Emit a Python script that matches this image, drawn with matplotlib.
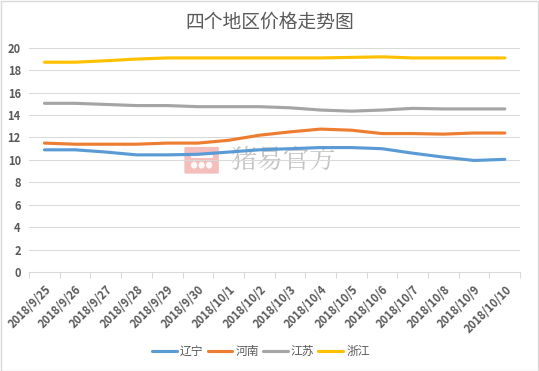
import matplotlib
matplotlib.use("Agg")
import matplotlib.pyplot as plt
import numpy as np
from matplotlib.patches import FancyBboxPatch, Rectangle, Ellipse

plt.rcParams['font.family'] = ['Noto Sans CJK SC', 'DejaVu Sans']

dates = ["2018/9/25", "2018/9/26", "2018/9/27", "2018/9/28", "2018/9/29", "2018/9/30",
         "2018/10/1", "2018/10/2", "2018/10/3", "2018/10/4", "2018/10/5", "2018/10/6",
         "2018/10/7", "2018/10/8", "2018/10/9", "2018/10/10"]
liaoning = [10.9, 10.9, 10.7, 10.45, 10.45, 10.5, 10.7, 10.9, 11.0, 11.1, 11.1, 11.0, 10.6, 10.25, 9.95, 10.05]
henan = [11.5, 11.4, 11.4, 11.4, 11.5, 11.5, 11.75, 12.2, 12.5, 12.75, 12.65, 12.35, 12.35, 12.3, 12.4, 12.4]
jiangsu = [15.05, 15.05, 14.95, 14.85, 14.85, 14.75, 14.75, 14.75, 14.65, 14.45, 14.35, 14.45, 14.6, 14.55, 14.55, 14.55]
zhejiang = [18.72, 18.72, 18.85, 19.0, 19.1, 19.1, 19.1, 19.1, 19.1, 19.1, 19.15, 19.2, 19.1, 19.1, 19.1, 19.1]
series_names = ["辽宁", "河南", "江苏", "浙江"]
colors = ["#5B9BD5", "#ED7D31", "#A5A5A5", "#FFC000"]
yticks = [0, 2, 4, 6, 8, 10, 12, 14, 16, 18, 20]

fig = plt.figure(figsize=(5.39, 3.71), dpi=100)
fig.patches.append(Rectangle((0.001, 0.001), 0.997, 0.996, transform=fig.transFigure,
                             fill=False, edgecolor="#D9D9D9", lw=1))
ax = fig.add_axes([0.054, 0.267, 0.911, 0.604])
ax.set_facecolor("none")
ax.set_zorder(2)

x = np.arange(len(dates))
for vals, name, c in zip([liaoning, henan, jiangsu, zhejiang], series_names, colors):
    ax.plot(x, vals, color=c, lw=2.25, label=name, solid_capstyle="round", zorder=3)

ax.set_xlim(-0.5, len(dates) - 0.5)
ax.set_ylim(0, 20)
ax.set_yticks(yticks)
ax.set_yticklabels([str(v) for v in yticks])
ax.yaxis.grid(True, color="#D9D9D9", lw=0.75)
ax.set_axisbelow(True)
for s in ["top", "right", "left"]:
    ax.spines[s].set_visible(False)
ax.spines["bottom"].set_color("#D9D9D9")
ax.spines["bottom"].set_linewidth(0.75)
ax.tick_params(axis="y", length=0, labelsize=8, labelcolor="#595959", pad=6)
ax.set_xticks(x)
ax.set_xticklabels(dates, rotation=45, ha="right", va="top", rotation_mode="anchor")
ax.tick_params(axis="x", which="major", length=0, labelsize=8, labelcolor="#595959", pad=8)
ax.set_xticks(np.arange(-0.5, len(dates), 1.0), minor=True)
ax.tick_params(axis="x", which="minor", length=4, color="#D9D9D9", width=0.75, direction="out")
for lab in ax.get_xticklabels() + ax.get_yticklabels():
    lab.set_fontweight("bold")

# watermark (behind the lines)
lx, ly, lw_, lh = 0.345, 0.535, 0.058, 0.066
fig.patches.append(FancyBboxPatch((lx, ly), lw_, lh, boxstyle="round,pad=0.003",
                                  transform=fig.transFigure, facecolor="#F2B3B0",
                                  edgecolor="none", alpha=0.85, zorder=0.5))
for cx in (0.26, 0.5, 0.74):
    fig.patches.append(Ellipse((lx + lw_ * cx, ly + lh * 0.3), lw_ * 0.2, lh * 0.28,
                               transform=fig.transFigure, facecolor="white",
                               edgecolor="none", alpha=0.9, zorder=0.6))
fig.patches.append(Rectangle((lx + lw_ * 0.15, ly + lh * 0.6), lw_ * 0.7, lh * 0.12,
                             transform=fig.transFigure, facecolor="white",
                             edgecolor="none", alpha=0.9, zorder=0.6))
fig.text(0.428, 0.566, "猪易官方", fontsize=19, color="#BDBDBD", va="center", ha="left",
         family=["Noto Serif CJK SC", "Noto Sans CJK SC", "DejaVu Sans"], alpha=0.9, zorder=0.5)

fig.text(0.5, 0.941, "四个地区价格走势图", ha="center", va="center", fontsize=13.5, color="#595959")

fig.legend(loc="center", bbox_to_anchor=(0.484, 0.052), ncol=4, frameon=False, fontsize=8.5,
           handlelength=2.1, handletextpad=0.25, columnspacing=0.35, labelcolor="#595959")

fig.savefig("out.png", dpi=100)
